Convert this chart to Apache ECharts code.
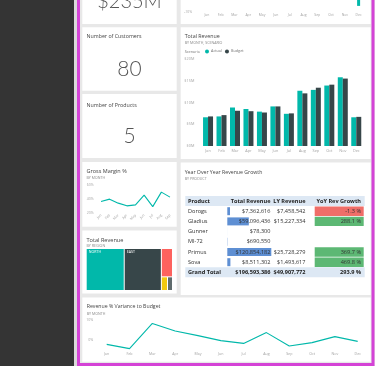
<!DOCTYPE html>
<html><head><meta charset="utf-8">
<script src="https://cdn.jsdelivr.net/npm/echarts@6/dist/echarts.min.js"></script>
<style>html,body{margin:0;padding:0;background:#333;}#c{width:375px;height:366px;}</style>
</head><body><div id="c"></div>
<script>
// ---------------- data ----------------
const kpiRevenue = '$235M';
const kpiCustomers = '80';
const kpiProducts = '5';

const topMonths = ['Jan','Feb','Mar','Apr','May','Jun','Jul','Aug','Sep','Oct','Nov','Dec'];
const topValues = [2, 3, 1, 4, 2, 3, 1, 5, 4, 6, 7, -7.1];

const months = ['Jan','Feb','Mar','Apr','May','Jun','Jul','Aug','Sep','Oct','Nov','Dec'];
const revActual = [6.6, 6.8, 8.85, 8.5, 7.9, 9.1, 7.4, 12.7, 12.9, 13.9, 15.8, 6.6];
const revBudget = [6.8, 7.1, 8.1, 8.0, 7.7, 9.1, 7.5, 12.1, 13.4, 14.1, 15.5, 6.7];

const gmMonths = ['Jan','Feb','Mar','Apr','May','Jun','Jul','Aug','Sep'];
const gmValues = [36.1, 39.6, 33.8, 29.9, 31.3, 45.4, 28.8, 49.7, 42.5];

const varValues = [-2.2, -4.3, 8.3, 4.5, 2.2, -0.3, -1.7, 3.7, -3.0, -1.3, 1.7, -0.7];

const regions = ['NORTH','EAST','WEST','SOUTH','CENTRAL'];
const regionValues = [86, 84, 17, 4.5, 3.7];

const products = ['Dorogs','Gladius','Gunner','MI-72','Primus','Sova'];
const productRevenue = [7362616, 59096436, 78300, 690550, 120854182, 8511302];
const productLY = [7458542, 15227334, null, null, 25728279, 1493617];
const tableHeaders = ['Product','Total Revenue','LY Revenue','YoY Rev Growth'];

// ---------------- styling helpers ----------------
const FONT = '"Open Sans", "Noto Sans", sans-serif';
const TEAL = '#01b8aa', DARK = '#374649';
const regionColors = ['#01b8aa','#374649','#fd625e','#f2c80f','#5f6b6d'];
const AXC = '#a3a3a3';
function txt(x, y, s, size, color, align, weight, family) {
  return {type:'text', z:6, silent:true, style:{x:x, y:y, text:s, fill:color,
    font:(weight||'normal') + ' ' + size + 'px ' + (family||FONT), align:align||'left', verticalAlign:'middle'}};
}
function rect(x, y, w, h, fill, z2) {
  return {type:'rect', z:0, z2:z2||0, silent:true, shape:{x:x, y:y, width:w, height:h}, style:{fill:fill}};
}
const money = v => '$' + Math.round(v).toLocaleString('en-US');

const g = [];
// backgrounds
g.push(rect(0, 0, 375, 366, '#e8e8e8', 0));
g.push(rect(0, 0, 74, 366, '#343434', 1));
g.push(rect(74, 0, 3, 366, '#dadada', 1));
// tiles
[[82.3,-5,94.4,29],[180.7,-5,190,29],[82.3,27.3,94.4,63.5],[82.3,94,94.4,64],[82.3,162,94.4,64.7],
 [82.3,230.5,94.4,63],[180.7,27.3,190,131.7],[180.7,162.5,190,132.5],[82.3,297.5,288.4,64.2]]
 .forEach(t => g.push(rect(t[0], t[1], t[2], t[3], '#ffffff', 2)));
// frame
g.push({type:'rect', z:0, z2:3, silent:true, shape:{x:78.5, y:-5, width:294.5, height:369.5},
  style:{fill:'none', stroke:'#d443d6', lineWidth:3}});

// KPI
const KF = '"Lato", "Open Sans", sans-serif';
g.push({type:'text', z:6, style:{x:129.5, y:11.5, text:kpiRevenue, fill:'#555', font:'300 20px ' + KF, align:'center', verticalAlign:'bottom'}});
g.push({type:'text', z:6, style:{x:129.5, y:79.5, text:kpiCustomers, fill:'#555', font:'300 21px ' + KF, align:'center', verticalAlign:'bottom'}});
g.push({type:'text', z:6, style:{x:129.5, y:147, text:kpiProducts, fill:'#555', font:'300 21px ' + KF, align:'center', verticalAlign:'bottom'}});

// titles
const TC = '#444', SC = '#8a8a8a';
g.push(txt(86.5, 36.7, 'Number of Customers', 5.3, TC));
g.push(txt(86.5, 105, 'Number of Products', 5.3, TC));
g.push(txt(86.5, 171.7, 'Gross Margin %', 5.5, TC));
g.push(txt(86.5, 178.4, 'BY MONTH', 3.6, SC));
g.push(txt(86.5, 240, 'Total Revenue', 5.6, TC));
g.push(txt(86.5, 246.3, 'BY REGION', 3.6, SC));
g.push(txt(184.7, 36, 'Total Revenue', 5.3, TC));
g.push(txt(184.7, 43, 'BY MONTH, SCENARIO', 3.6, SC));
g.push(txt(184.7, 51.5, 'Scenario', 3.8, '#777'));
g.push(txt(184.7, 172.3, 'Year Over Year Revenue Growth', 5.2, TC));
g.push(txt(184.7, 178.5, 'BY PRODUCT', 3.6, SC));
g.push(txt(86.7, 306.7, 'Revenue % Variance to Budget', 5.2, TC));
g.push(txt(86.7, 313.5, 'BY MONTH', 3.6, SC));

// table
const HB = '#dde8f4';
g.push({type:'rect', z:1, silent:true, shape:{x:185.3, y:196, width:179.4, height:10}, style:{fill:HB}});
g.push({type:'rect', z:1, silent:true, shape:{x:185.3, y:267.3, width:179.4, height:10}, style:{fill:HB}});
const colX = [188, 270.5, 305.5, 361];
const colA = ['left','right','right','right'];
const rowY0 = 201, rowH = 10.2, TF = 5.6;
tableHeaders.forEach((h, j) => g.push(txt(colX[j], rowY0, h, TF, '#222', colA[j], 'bold')));
products.forEach((p, i) => {
  const y = rowY0 + (i + 1) * rowH;
  g.push(txt(colX[0], y, p, TF, '#333'));
  g.push(txt(colX[1], y, money(productRevenue[i]), TF, '#333', 'right'));
  if (productLY[i] != null) {
    g.push(txt(colX[2], y, money(productLY[i]), TF, '#333', 'right'));
    const pct = (productRevenue[i] / productLY[i] - 1) * 100;
    g.push({type:'rect', z:1, silent:true, shape:{x:314.7, y:y - 4.7, width:49, height:9.4},
      style:{fill: pct < 0 ? '#ef6e69' : '#5db874'}});
    g.push(txt(colX[3], y, pct.toFixed(1) + ' %', TF, '#333', 'right'));
  }
});
const totRev = productRevenue.reduce((a, b) => a + b, 0);
const totLY = productLY.reduce((a, b) => a + (b || 0), 0);
const ty = rowY0 + 7 * rowH;
g.push(txt(colX[0], ty, 'Grand Total', TF, '#222', 'left', 'bold'));
g.push(txt(colX[1], ty, money(totRev), TF, '#222', 'right', 'bold'));
g.push(txt(colX[2], ty, money(totLY), TF, '#222', 'right', 'bold'));
g.push(txt(colX[3], ty, ((totRev / totLY - 1) * 100).toFixed(1) + ' %', TF, '#222', 'right', 'bold'));

// ---------------- chart ----------------
const lbl = (size, extra) => Object.assign({color:AXC, fontSize:size, fontFamily:FONT}, extra || {});
const hidden = {axisLine:{show:false}, axisTick:{show:false}};
const light = {show:true, lineStyle:{color:'#efefef', width:0.6}};

const option = {
  animation: false,
  graphic: g,
  legend: {data:['Actual','Budget'], left:205, top:49.4, padding:0, itemWidth:4, itemHeight:4, itemGap:3,
    icon:'circle', textStyle:{fontSize:3.8, color:'#777', fontFamily:FONT, padding:[0,0,0,-3]}},
  grid: [
    {left:200, top:0, width:165.5, height:12},
    {left:201.3, top:59, width:161.7, height:87},
    {left:96.7, top:185, width:77.6, height:27.7},
    {left:95.3, top:320, width:273.8, height:30},
    {left:227.3, top:206.1, width:44, height:61.2}
  ],
  xAxis: [
    Object.assign({type:'category', gridIndex:0, data:topMonths, axisLabel:lbl(3.4, {margin:1.5, interval:0})}, hidden),
    Object.assign({type:'category', gridIndex:1, data:months, axisLabel:lbl(3.8, {margin:3, interval:0})}, hidden),
    Object.assign({type:'category', gridIndex:2, data:gmMonths, axisLabel:lbl(3.5, {margin:2, interval:0, rotate:45})}, hidden),
    Object.assign({type:'category', gridIndex:3, data:months, axisLabel:lbl(3.6, {margin:2, interval:0})}, hidden),
    {type:'value', gridIndex:4, show:false, min:0, max:Math.max(...productRevenue)}
  ],
  yAxis: [
    Object.assign({type:'value', gridIndex:0, min:-10, max:-4.3, interval:10, splitLine:{show:false},
      axisLabel:lbl(3.4, {formatter: v => v + '%', margin:8, showMaxLabel:false})}, hidden),
    Object.assign({type:'value', gridIndex:1, min:0, max:20, interval:5, splitLine:light,
      axisLabel:lbl(3.8, {formatter: v => '$' + v + 'M', margin:7})}, hidden),
    Object.assign({type:'value', gridIndex:2, min:20, max:60, interval:20, splitLine:light,
      axisLabel:lbl(3.5, {formatter: v => v + '%', margin:3})}, hidden),
    Object.assign({type:'value', gridIndex:3, min:-5, max:10, interval:5,
      splitLine:{show:true, lineStyle:{color:['rgba(0,0,0,0)','#ececec','rgba(0,0,0,0)','#ececec'], width:0.6}},
      axisLabel:lbl(3.6, {formatter: v => (v % 10 === 0 ? v + '%' : ''), margin:2})}, hidden),
    {type:'category', gridIndex:4, data:products, inverse:true, show:false}
  ],
  series: [
    {type:'bar', xAxisIndex:0, yAxisIndex:0, data:topValues, barWidth:3, clip:true, itemStyle:{color:TEAL}},
    {name:'Actual', type:'bar', xAxisIndex:1, yAxisIndex:1, data:revActual, barWidth:5, barGap:'0%', itemStyle:{color:TEAL}},
    {name:'Budget', type:'bar', xAxisIndex:1, yAxisIndex:1, data:revBudget, barWidth:5, barGap:'0%', itemStyle:{color:DARK}},
    {type:'line', xAxisIndex:2, yAxisIndex:2, data:gmValues, symbol:'none', lineStyle:{color:TEAL, width:1.1}},
    {type:'line', xAxisIndex:3, yAxisIndex:3, data:varValues, symbol:'none', lineStyle:{color:TEAL, width:1.1}},
    {type:'bar', xAxisIndex:4, yAxisIndex:4, data:productRevenue, barWidth:8, z:3, itemStyle:{color:'#5e8fd3'}},
    {type:'treemap', left:86.7, top:249, width:85.3, height:41, roam:false, nodeClick:false,
      breadcrumb:{show:false},
      label:{show:true, position:'insideTopLeft', fontSize:3.6, color:'#fff', fontFamily:FONT, padding:[1,2]},
      upperLabel:{show:false},
      levels:[{itemStyle:{gapWidth:1, borderWidth:0, borderColor:'#fff'}}],
      data: regions.map((r, i) => ({name:r, value:regionValues[i], itemStyle:{color:regionColors[i], borderWidth:0},
        label:{show: i < 2}}))
    }
  ]
};
const chart = echarts.init(document.getElementById('c'));
chart.setOption(option);
</script>
</body></html>
